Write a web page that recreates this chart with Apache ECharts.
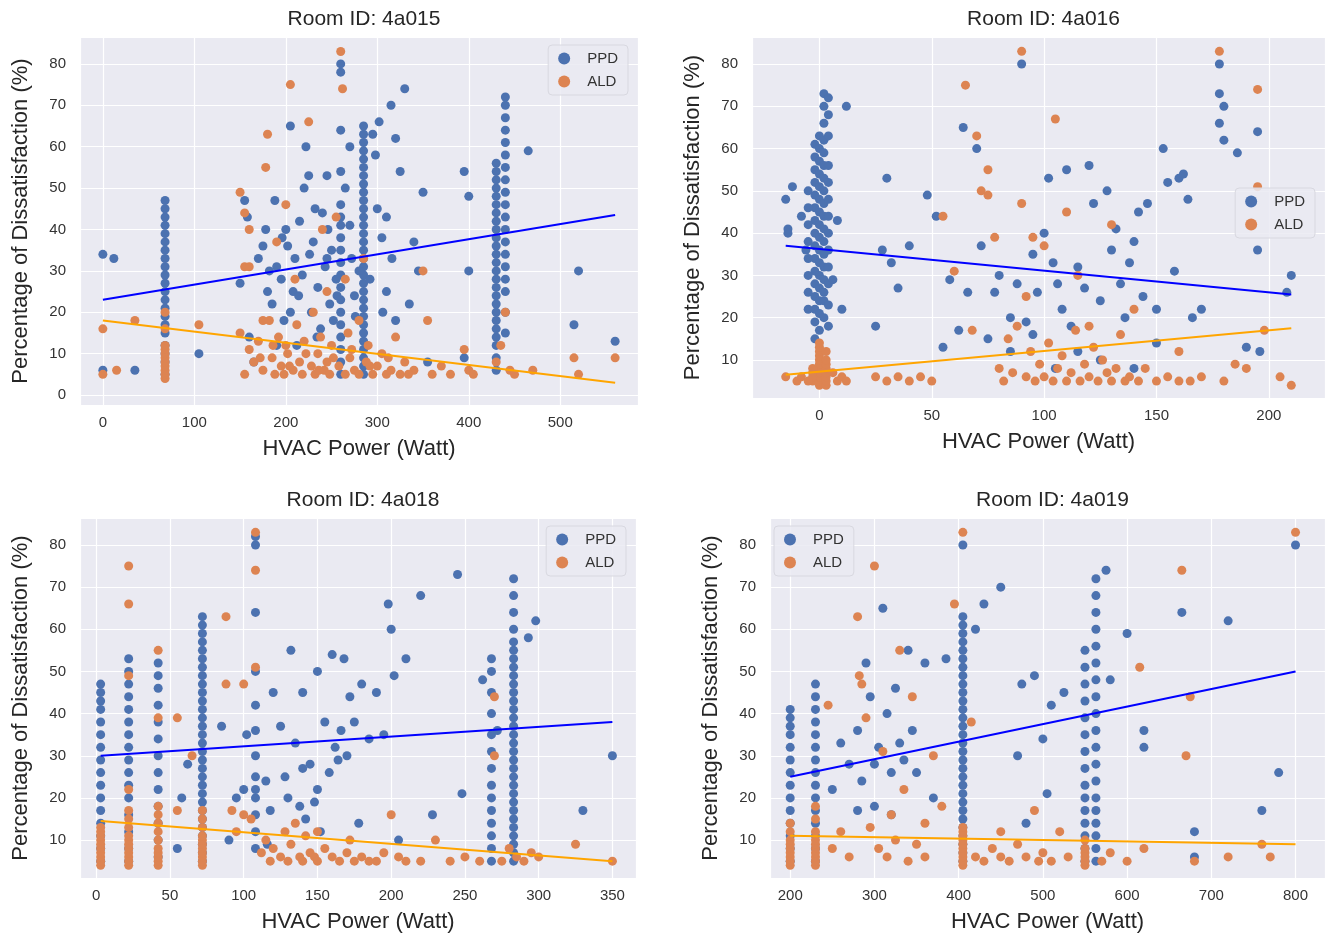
<!DOCTYPE html>
<html>
<head>
<meta charset="utf-8">
<script src="https://cdn.jsdelivr.net/npm/echarts@6/dist/echarts.min.js"></script>
<style>body{margin:0;background:#fff}</style>
</head>
<body>
<div id="main" style="width:1333px;height:943px;"></div>
<script>
// rooms
var rooms = ['4a015', '4a016', '4a018', '4a019'];

// --- 4a015 ---
var ppd015Cols = [
  [68, [5,8,10,12,15,17,19,21,23,25,27,29,31,33,35,37,39,41,43,45,47]],
  [285, [5,7,9,11,13,15,17,19,21,23,25,27,29,31,33,35,37,39,41,43,45,47,49,51,53,55,57,59,61,63,65]],
  [430, [6,9,12,14,16,18,20,22,24,26,28,30,32,34,36,38,40,42,44,46,48,50,52,54,56]],
  [440, [15,20,25,28,31,34,37,40,43,46,49,52,55,58,61,64,67,70,72]],
  [260, [5,8,11,14,17,20,23,26,29,32,35,38,41,43,46,54,64,78,80]]
];
var ppd015Pts = [[0,34],[0,6],[12,33],[35,6],[105,10],[150,27],[155,47],[158,43],[160,14],[165,8],[170,33],[175,36],[178,40],[180,25],[185,22],[188,47],[190,31],[195,28],[198,18],[200,40],[202,36],[205,65],[208,25],[210,33],[212,12],[215,42],[218,29],[220,50],[222,60],[225,53],[228,20],[230,37],[232,45],[235,26],[238,16],[240,44],[243,31],[245,33],[248,22],[250,35],[252,18],[255,28],[265,50],[270,41],[275,24],[280,30],[295,63],[298,58],[300,45],[302,66],[305,38],[310,43],[315,70],[320,62],[325,54],[330,74],[335,22],[340,37],[345,30],[350,49],[355,8],[395,54],[400,48],[400,30],[395,9],[465,59],[520,30],[515,17],[560,13],[310,25],[320,18],[245,53],[270,60],[205,20],[190,12],[182,30],[196,38],[214,24],[226,34],[234,14],[246,40],[256,24],[272,33],[276,19],[292,28],[306,20],[316,33]];
var ald015Cols = [
  [68, [4,5,6,7,8,9,10,11,12,16,20]]
];
var ald015Pts = [[0,16],[0,5],[15,6],[35,18],[105,17],[150,49],[155,44],[160,40],[155,31],[160,31],[150,15],[155,5],[160,11],[165,8],[170,13],[175,6],[178,55],[180,63],[182,18],[185,9],[188,5],[190,37],[192,14],[195,7],[198,5],[200,46],[202,10],[205,75],[208,6],[210,28],[212,17],[215,8],[218,5],[220,13],[225,66],[228,7],[230,20],[232,5],[235,10],[238,14],[240,40],[242,6],[245,8],[248,5],[250,12],[255,43],[258,7],[260,83],[262,74],[265,5],[268,15],[270,9],[275,6],[280,5],[285,33],[288,8],[290,12],[295,5],[300,7],[305,10],[310,5],[315,6],[320,14],[325,5],[330,8],[340,6],[350,30],[355,18],[360,5],[370,7],[380,5],[395,11],[400,6],[405,5],[430,8],[435,12],[440,20],[445,6],[450,5],[470,6],[515,9],[520,5],[560,9],[280,18],[245,25],[200,12],[175,18],[265,28],[172,9],[186,12],[204,7],[222,10],[236,6],[252,9],[272,11],[292,7],[312,9],[334,5]];
var fit015 = {ppd: [[0,23],[560,43.5]], ald: [[0,18],[560,3]]};

// --- 4a016 ---
var ppd016Cols = [
  [-2, [15,19,22,25,28,31,34,37,40,43,46,49,52,55,58,61]],
  [0, [17,21,24,27,30,33,36,39,42,45,48,51,54,57,60,63]],
  [2, [20,24,26,29,32,35,38,41,44,47,50,53,56,59,62,66,70,73]],
  [4, [18,23,28,32,36,40,44,48,52,56,63,68,72]],
  [-5, [22,26,30,34,38,42,46,50]]
];
var ppd016Pts = [[-15,48],[-14,41],[-14,40],[-12,51],[-8,44],[-6,36],[6,29],[8,43],[10,22],[12,70],[25,18],[28,36],[30,53],[32,33],[35,27],[40,37],[48,49],[52,44],[55,13],[58,29],[62,17],[64,65],[66,26],[70,60],[72,37],[75,15],[78,26],[80,30],[85,12],[88,28],[90,80],[92,19],[95,35],[97,26],[100,40],[102,53],[104,33],[106,28],[108,22],[110,55],[112,18],[115,32],[118,27],[120,56],[122,47],[125,24],[128,50],[130,36],[132,41],[134,28],[136,20],[138,33],[140,38],[142,45],[144,25],[146,47],[150,14],[153,60],[155,52],[158,31],[160,53],[162,54],[164,48],[166,20],[170,22],[178,80],[178,73],[180,70],[178,66],[180,62],[186,59],[195,64],[195,36],[190,13],[210,30],[208,26],[196,12],[150,22],[125,10],[105,8],[95,16],[140,8],[115,12],[85,20]];
var ald016Cols = [
  [0, [4,5,6,7,8,9,10,11,12,13,14]],
  [3, [4,5,6,7,8,9,10,12]],
  [-3, [5,6,7,8]]
];
var ald016Pts = [[-15,6],[-10,5],[-8,6],[-5,5],[6,7],[8,5],[10,6],[12,5],[25,6],[30,5],[35,6],[40,5],[45,6],[50,5],[55,44],[60,31],[65,75],[68,17],[70,63],[72,50],[75,49],[75,55],[78,39],[80,8],[82,5],[84,15],[86,7],[88,18],[90,83],[90,47],[92,6],[94,12],[95,39],[96,5],[98,9],[100,37],[100,6],[102,14],[104,5],[105,67],[106,8],[108,11],[110,45],[110,5],[112,7],[114,17],[115,30],[116,5],[118,9],[120,6],[122,13],[124,5],[126,10],[128,7],[130,42],[130,5],[132,8],[134,16],[136,5],[138,6],[140,22],[142,5],[145,8],[150,5],[155,6],[160,5],[165,5],[170,6],[178,83],[180,5],[185,9],[190,8],[195,74],[195,51],[198,17],[205,6],[210,4],[160,12],[92,25],[120,18]];
var fit016 = {ppd: [[-15,37],[210,25.5]], ald: [[-15,6.5],[210,17.5]]};

// --- 4a018 ---
var ppd018Cols = [
  [3, [5,8,11,14,17,20,23,26,29,32,35,38,41,43,45,47]],
  [22, [5,8,12,16,20,23,26,29,32,35,38,41,44,47,50,53]],
  [42, [6,10,14,18,22,26,30,34,38,42,46,49,52]],
  [72, [5,7,9,11,13,15,17,19,21,23,25,27,29,31,33,35,37,39,41,43,45,47,49,51,53,55,57,59,61,63]],
  [108, [8,12,16,20,22,25,30,36,42,50,64,80,82]],
  [268, [5,8,11,14,17,20,23,27,31,35,40,45,50,53]],
  [283, [5,7,9,11,13,15,17,19,21,23,25,27,29,31,33,35,37,39,41,43,45,47,49,51,53,55,57,60,64,68,72]]
];
var ppd018Pts = [[55,8],[58,20],[62,28],[85,37],[90,10],[95,20],[100,22],[102,35],[115,24],[118,17],[120,45],[125,37],[128,25],[130,20],[132,55],[135,33],[138,18],[140,45],[142,15],[145,28],[148,19],[150,50],[152,12],[155,38],[158,26],[160,54],[162,32],[164,29],[166,36],[168,53],[170,30],[172,44],[175,38],[178,14],[180,47],[185,34],[190,45],[195,35],[198,66],[200,60],[202,49],[205,10],[210,53],[220,68],[228,16],[245,73],[248,21],[262,48],[272,36],[298,62],[293,58],[330,17],[350,30],[140,27],[150,22],[116,9]];
var ald018Cols = [
  [3, [4,5,6,7,8,9,10,11,12,13]],
  [22, [4,5,6,7,8,9,10,11,13,15,17,22,49,66,75]],
  [42, [4,5,6,7,8,10,12,14,16,18,39,55]],
  [72, [4,5,6,7,8,9,10,11,13,15,17]]
];
var ald018Pts = [[55,17],[55,39],[65,30],[88,63],[88,47],[92,17],[95,12],[100,16],[100,47],[105,15],[108,83],[108,74],[108,51],[112,7],[115,10],[118,5],[120,8],[125,6],[128,12],[130,5],[132,9],[135,14],[138,6],[140,5],[142,11],[145,7],[148,6],[150,5],[155,8],[160,6],[165,5],[170,7],[175,5],[180,6],[185,5],[190,5],[195,7],[200,16],[205,6],[210,5],[220,5],[230,10],[240,5],[250,6],[260,5],[270,44],[270,30],[275,5],[280,8],[285,6],[290,5],[295,7],[300,6],[325,9],[350,5],[172,10],[150,12]];
var fit018 = {ppd: [[3,30],[350,38]], ald: [[3,14.5],[350,5]]};

// --- 4a019 ---
var ppd019Cols = [
  [200, [5,8,11,14,17,20,23,26,29,32,35,37,39,41]],
  [230, [5,8,11,14,17,20,23,26,29,32,35,38,41,44,47]],
  [405, [5,7,9,11,13,15,17,19,21,23,25,27,29,31,33,35,37,39,41,43,45,47,49,51,53,55,57,59,61,63,80]],
  [550, [5,8,11,14,17,20,23,27,31,35,39,43,47,51,55]],
  [563, [5,8,11,14,17,20,24,28,32,36,40,44,48,52,56,60,64,68,72]]
];
var ppd019Pts = [[250,22],[260,33],[270,28],[280,36],[285,24],[290,52],[295,44],[300,28],[305,32],[310,65],[315,40],[320,26],[325,46],[330,33],[335,29],[340,55],[345,36],[350,26],[360,52],[370,20],[385,53],[420,60],[430,66],[450,70],[470,30],[475,47],[480,14],[490,49],[500,34],[505,21],[510,42],[525,45],[580,48],[575,74],[600,59],[620,36],[620,32],[665,64],[680,12],[680,6],[720,62],[760,17],[780,26],[800,80],[300,18],[320,16],[280,17]];
var ald019Cols = [
  [200, [4,5,6,7,8,9,10,12,14]],
  [230, [4,5,6,7,8,9,10,12,15,18]],
  [405, [4,5,6,7,8,9,10,11,12,13]],
  [550, [4,5,6,7,8,10]]
];
var ald019Pts = [[245,42],[250,8],[260,12],[270,6],[280,63],[282,49],[285,47],[290,39],[295,13],[300,75],[305,8],[310,31],[315,6],[320,16],[325,10],[330,55],[335,22],[340,5],[345,44],[350,9],[360,6],[370,30],[380,18],[395,66],[405,83],[415,38],[420,6],[430,5],[440,8],[450,6],[460,5],[470,9],[480,6],[490,17],[495,5],[500,7],[510,5],[520,12],[530,6],[570,5],[580,7],[600,5],[615,51],[620,8],[665,74],[670,30],[675,44],[680,5],[720,6],[770,6],[800,83],[760,9],[450,12],[360,14]];
var fit019 = {ppd: [[200,25],[800,50]], ald: [[200,11],[800,9]]};

var panels = [
  {ppdCols: ppd015Cols, ppdPts: ppd015Pts, aldCols: ald015Cols, aldPts: ald015Pts, fit: fit015},
  {ppdCols: ppd016Cols, ppdPts: ppd016Pts, aldCols: ald016Cols, aldPts: ald016Pts, fit: fit016},
  {ppdCols: ppd018Cols, ppdPts: ppd018Pts, aldCols: ald018Cols, aldPts: ald018Pts, fit: fit018},
  {ppdCols: ppd019Cols, ppdPts: ppd019Pts, aldCols: ald019Cols, aldPts: ald019Pts, fit: fit019}
];

// layout
var grids = [
  {left: 80, top: 37, width: 558, height: 368},
  {left: 752, top: 37, width: 573, height: 361},
  {left: 80, top: 518, width: 556, height: 360},
  {left: 770, top: 518, width: 555, height: 360}
];
var xRanges = [[-25, 585, 5], [-30, 225, 5], [-11, 366, 7], [176, 835, 6]];
var yRanges = [[-2.4, 86.5], [1, 86.4], [1, 86.4], [1, 86.4]];
var legendPos = [
  {right: 1333 - 628, top: 45},
  {right: 1333 - 1315, top: 188},
  {right: 1333 - 626, top: 526},
  {left: 774, top: 526}
];

function flat(cols, pts) {
  var out = [];
  cols.forEach(function (c) { c[1].forEach(function (y) { out.push([c[0], y]); }); });
  return out.concat(pts);
}

var FONT = 'Liberation Sans, Arial, sans-serif';
var BLUE = '#4C72B0', ORANGE = '#DD8452';
var option = {
  animation: false,
  backgroundColor: '#fff',
  title: [], grid: [], xAxis: [], yAxis: [], series: [], legend: []
};

grids.forEach(function (g, i) {
  option.grid.push({left: g.left, top: g.top, width: g.width, height: g.height,
    show: true, backgroundColor: '#EAEAF2', borderWidth: 0});
  option.title.push({text: 'Room ID: ' + rooms[i], left: g.left + g.width / 2, top: g.top - 33,
    textAlign: 'center', textStyle: {fontSize: 21, fontWeight: 'normal', color: '#262626', fontFamily: FONT}});
  option.xAxis.push({
    type: 'value', gridIndex: i, min: xRanges[i][0], max: xRanges[i][1], splitNumber: xRanges[i][2],
    name: 'HVAC Power (Watt)', nameLocation: 'middle', nameGap: 33,
    nameTextStyle: {fontSize: 22, color: '#262626', fontFamily: FONT},
    axisLine: {show: false}, axisTick: {show: false},
    axisLabel: {fontSize: 15, color: '#333', fontFamily: FONT, margin: 10, showMinLabel: false, showMaxLabel: false},
    splitLine: {lineStyle: {color: '#fff', width: 1.2}}
  });
  option.yAxis.push({
    type: 'value', gridIndex: i, min: yRanges[i][0], max: yRanges[i][1], splitNumber: 8,
    name: 'Percentage of Dissatisfaction (%)', nameLocation: 'middle', nameGap: 48,
    nameTextStyle: {fontSize: 22, color: '#262626', fontFamily: FONT},
    axisLine: {show: false}, axisTick: {show: false},
    axisLabel: {fontSize: 15, color: '#333', fontFamily: FONT, margin: 14, showMinLabel: false, showMaxLabel: false},
    splitLine: {lineStyle: {color: '#fff', width: 1.2}}
  });
  var p = panels[i];
  option.series.push(
    {name: 'PPD', type: 'scatter', xAxisIndex: i, yAxisIndex: i, symbolSize: 9,
      itemStyle: {color: BLUE, opacity: 1}, data: flat(p.ppdCols, p.ppdPts)},
    {name: 'ALD', type: 'scatter', xAxisIndex: i, yAxisIndex: i, symbolSize: 9,
      itemStyle: {color: ORANGE, opacity: 1}, data: flat(p.aldCols, p.aldPts)},
    {type: 'line', xAxisIndex: i, yAxisIndex: i, symbol: 'none', lineStyle: {color: '#0000FF', width: 2},
      data: p.fit.ppd, z: 5},
    {type: 'line', xAxisIndex: i, yAxisIndex: i, symbol: 'none', lineStyle: {color: '#FFA500', width: 2},
      data: p.fit.ald, z: 5}
  );
  var lg = {data: ['PPD', 'ALD'], orient: 'vertical', itemGap: 8, itemWidth: 12, itemHeight: 12,
    icon: 'circle', backgroundColor: 'rgba(234,234,242,0.85)', borderColor: '#d8d8e0', borderWidth: 1,
    borderRadius: 4, padding: [6, 10, 6, 10], selectedMode: false,
    textStyle: {fontSize: 15, color: '#333', fontFamily: FONT, padding: [0, 0, 0, 12]}};
  Object.assign(lg, legendPos[i]);
  option.legend.push(lg);
});

var myChart = echarts.init(document.getElementById('main'));
myChart.setOption(option);
</script>
</body>
</html>
